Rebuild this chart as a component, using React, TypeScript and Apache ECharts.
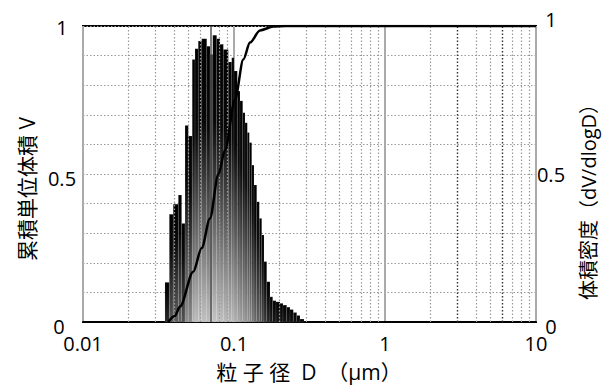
import React, { useEffect, useRef } from 'react';
import * as echarts from 'echarts';

const xTickLabels = ['0.01', '0.1', '1', '10'];
const yTickLabels = ['0', '0.5', '1'];

// particle-size channel edges (µm) and volume density per channel
const binEdges = [
  0.0349, 0.0373, 0.0396, 0.0428, 0.045, 0.0474, 0.0498, 0.0529, 0.0552, 0.058,
  0.0611, 0.066, 0.0694, 0.0723, 0.0768, 0.0808, 0.085, 0.0917, 0.0966, 0.1,
  0.1052, 0.1096, 0.1142, 0.1183, 0.1225, 0.1263, 0.131, 0.1357, 0.1414, 0.1471,
  0.1526, 0.158, 0.1647, 0.1731, 0.1804, 0.1897, 0.2017, 0.2111, 0.2234, 0.2349,
  0.247, 0.2602, 0.2736, 0.2908,
];
const density = [
  0.134, 0.364, 0.398, 0.429, 0.333, 0.664, 0.628, 0.887, 0.923, 0.949,
  0.957, 0.932, 0.904, 0.969, 0.957, 0.938, 0.921, 0.878, 0.893, 0.848,
  0.78, 0.747, 0.707, 0.673, 0.64, 0.606, 0.53, 0.463, 0.406, 0.35,
  0.294, 0.204, 0.136, 0.085, 0.072, 0.068, 0.063, 0.057, 0.05, 0.042,
  0.032, 0.022, 0.01,
];

// cumulative volume curve
const cumD = [0.0367, 0.0405, 0.0439, 0.0537, 0.0611, 0.0693, 0.0787, 0.0871, 0.1016, 0.1153, 0.1276, 0.1486, 0.182, 0.22, 10];
const cumV = [0, 0.02, 0.052, 0.17, 0.25, 0.35, 0.498, 0.58, 0.752, 0.887, 0.944, 0.985, 0.998, 1, 1];

const minorGrid = [
  0.02, 0.03, 0.04, 0.05, 0.06, 0.08, 0.09,
  0.2, 0.3, 0.4, 0.5, 0.6, 0.7, 0.8, 0.9,
  2, 4, 5, 7, 8, 9,
];
const darkGrid = [3, 6];
const solidGrid = [0.07];

const FONT = "'Open Sans', 'Noto Sans CJK JP', sans-serif";

export default function App() {
  const ref = useRef<HTMLDivElement>(null);
  useEffect(() => {
    if (!ref.current) return;
    const chart = echarts.init(ref.current, undefined, { renderer: 'svg' });
    const barData = density.map((h, i) => [binEdges[i], binEdges[i + 1], h]);
    const labelKey = (v: number) => yTickLabels.findIndex((t) => Math.abs(Number(t) - v) < 1e-6);
    const option: any = {
      animation: false,
      backgroundColor: '#fff',
      grid: {
        left: 83, right: 69, top: 26, bottom: 63,
        show: true, borderColor: '#000', borderWidth: 2, backgroundColor: '#fff',
      },
      xAxis: {
        type: 'log', logBase: 10, min: 0.01, max: 10,
        axisLine: { show: true, lineStyle: { color: '#000', width: 2 } },
        axisTick: { show: false },
        axisLabel: {
          color: '#000', fontSize: 20, fontFamily: FONT, margin: 11,
          formatter: (v: number) => {
            const f = xTickLabels.find((t) => Math.abs(Math.log10(Number(t)) - Math.log10(v)) < 1e-6);
            return f ?? '';
          },
        },
        splitLine: { show: true, lineStyle: { color: '#aaa', width: 2 } },
      },
      yAxis: [
        {
          type: 'value', min: 0, max: 1, interval: 0.1,
          axisLine: { show: false }, axisTick: { show: false },
          axisLabel: {
            color: '#000', fontSize: 20, fontFamily: FONT, align: 'center', margin: 21,
            formatter: (v: number) => {
              const k = labelKey(v);
              return k < 0 ? '' : `{l${k}|${yTickLabels[k]}}`;
            },
            rich: {
              l0: { fontSize: 20, fontFamily: FONT, color: '#000', padding: [9, 6, 0, 0] },
              l1: { fontSize: 20, fontFamily: FONT, color: '#000', padding: [8, 0, 0, 0] },
              l2: { fontSize: 20, fontFamily: FONT, color: '#000', padding: [2, 0, 0, 0] },
            },
          },
          splitLine: { show: true, lineStyle: { color: '#999', type: [1.5, 2], width: 1.2 } },
        },
        {
          type: 'value', min: 0, max: 1, interval: 0.5, position: 'right',
          axisLine: { show: false }, axisTick: { show: false },
          axisLabel: {
            color: '#000', fontSize: 20, fontFamily: FONT, align: 'center', margin: 15,
            formatter: (v: number) => {
              const k = labelKey(v);
              return k < 0 ? '' : `{r${k}|${yTickLabels[k]}}`;
            },
            rich: {
              r0: { fontSize: 20, fontFamily: FONT, color: '#000', padding: [8, 0, 0, 0] },
              r1: { fontSize: 20, fontFamily: FONT, color: '#000', padding: [0, 0, 0, 0] },
              r2: { fontSize: 20, fontFamily: FONT, color: '#000', padding: [0, 0, 14, 0] },
            },
          },
          splitLine: { show: false },
        },
      ],
      series: [
        {
          type: 'line', data: [], z: 1, silent: true,
          markLine: {
            silent: true, symbol: 'none', label: { show: false }, animation: false,
            data: [
              ...minorGrid.map((v) => ({ xAxis: v, lineStyle: { color: '#999', type: [1.5, 2], width: 1.2 } })),
              ...darkGrid.map((v) => ({ xAxis: v, lineStyle: { color: '#333', type: [1.5, 2], width: 1.4 } })),
              ...solidGrid.map((v) => ({ xAxis: v, lineStyle: { color: '#555', type: 'solid', width: 1.5 } })),
            ],
          },
        },
        {
          type: 'custom', yAxisIndex: 1, z: 3, silent: true,
          encode: { x: [0, 1], y: 2 },
          data: barData,
          renderItem: (params: any, api: any) => {
            const x0 = api.value(0), x1 = api.value(1), h = api.value(2);
            const p0 = api.coord([x0, 0]);
            const p1 = api.coord([x1, h]);
            const g = Math.round(200 * Math.pow(h, 0.8));
            const bottom = `rgb(${g},${g},${g})`;
            return {
              type: 'rect',
              shape: { x: p0[0], y: p1[1], width: p1[0] - p0[0], height: p0[1] - p1[1] },
              style: {
                fill: new echarts.graphic.LinearGradient(0, 0, 0, 1, [
                  { offset: 0, color: '#000' },
                  { offset: 0.3, color: '#080808' },
                  { offset: 1, color: bottom },
                ]),
                stroke: 'rgba(255,255,255,0.2)',
                lineWidth: 0.5,
              },
            };
          },
        },
        {
          type: 'line', yAxisIndex: 0, z: 5, silent: true,
          data: cumD.map((d, i) => [d, cumV[i]]),
          showSymbol: false, smooth: 0.3, smoothMonotone: 'x',
          lineStyle: { color: '#000', width: 2.5 },
        },
      ],
      graphic: [
        {
          type: 'text', x: 309, y: 372,
          style: { text: '粒 子 径  D  （μm）', fontSize: 21, fontFamily: FONT, fill: '#000', textAlign: 'center', textVerticalAlign: 'middle' },
        },
        {
          type: 'text', x: 27, y: 189, rotation: Math.PI / 2,
          style: { text: '累積単位体積 V', fontSize: 21, fontFamily: FONT, fill: '#000', textAlign: 'center', textVerticalAlign: 'middle' },
        },
        {
          type: 'text', x: 588, y: 197, rotation: Math.PI / 2,
          style: { text: '体積密度（dV/dlogD）', fontSize: 20, fontFamily: FONT, fill: '#000', textAlign: 'center', textVerticalAlign: 'middle' },
        },
      ],
    };
    chart.setOption(option);
    return () => chart.dispose();
  }, []);
  return <div ref={ref} style={{ position: 'fixed', left: 0, top: 0, width: 605, height: 385 }} />;
}
